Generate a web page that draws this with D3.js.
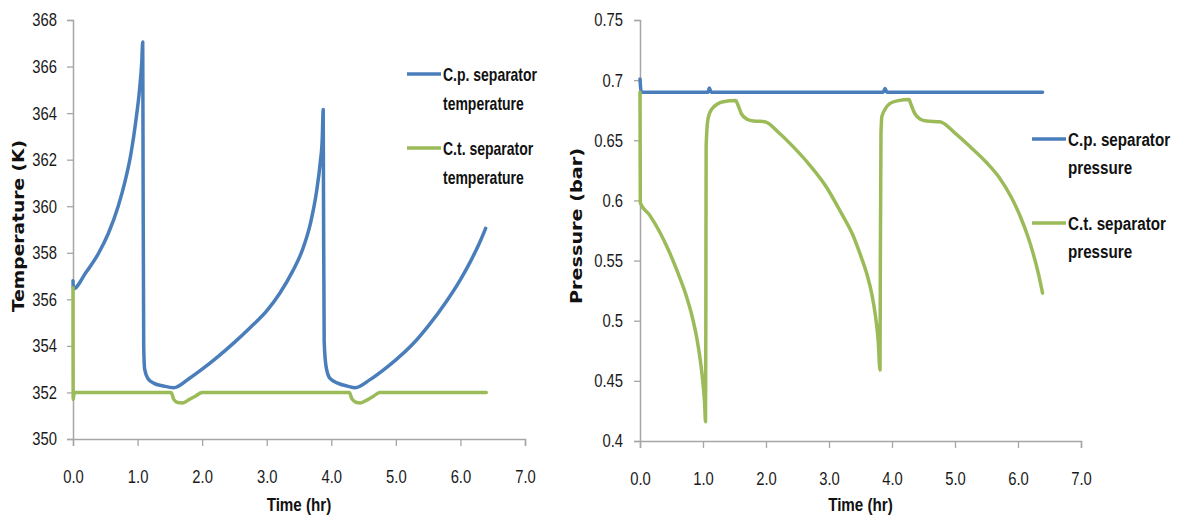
<!DOCTYPE html>
<html>
<head>
<meta charset="utf-8">
<script src="https://cdn.jsdelivr.net/npm/d3@7/dist/d3.min.js"></script>
<style>
  html, body { margin: 0; padding: 0; background: #fff; }
  svg { display: block; }
  .tick text { font-family: 'Liberation Sans', Arial, sans-serif; fill: #1a1a1a; }
  .legend text { font-family: 'Liberation Sans', Arial, sans-serif; font-weight: bold; fill: #111; }
  .xtitle { font-family: 'Liberation Sans', Arial, sans-serif; font-weight: bold; fill: #111; }
  .ytitle { font-family: 'DejaVu Sans', Verdana, sans-serif; font-weight: bold; fill: #111; }
</style>
</head>
<body>
<svg id="chart" width="1181" height="515"></svg>
<script>
// Time axis ticks (hr), shared by both panels
const timeTicks = [0, 1, 2, 3, 4, 5, 6, 7];
const tempTicks = [350, 352, 354, 356, 358, 360, 362, 364, 366, 368];
const pressTicks = [0.4, 0.45, 0.5, 0.55, 0.6, 0.65, 0.7, 0.75];

// [time (hr), temperature (K)]
const cpTemperature = [
  [0, 356.8], [0.005, 356.45], [0.2, 357.15], [0.4, 358.0], [0.55, 358.85],
  [0.7, 360.0], [0.8, 361.0], [0.9, 362.3], [0.97, 363.6], [1.03, 365.0],
  [1.065, 366.2], [1.08, 367.05],
  [1.085, 362.0], [1.095, 354.0], [1.11, 353.0], [1.16, 352.6], [1.25, 352.4],
  [1.4, 352.28], [1.56, 352.2], [1.8, 352.6], [2.0, 353.0], [2.25, 353.55],
  [2.5, 354.15], [2.75, 354.8], [3.0, 355.5], [3.2, 356.25], [3.4, 357.2],
  [3.55, 358.1], [3.68, 359.3], [3.77, 360.6], [3.83, 361.9], [3.86, 362.9],
  [3.875, 364.15],
  [3.88, 360.0], [3.89, 354.2], [3.92, 353.1], [3.98, 352.6], [4.1, 352.4],
  [4.25, 352.27], [4.37, 352.2], [4.6, 352.55], [4.8, 352.95], [5.0, 353.4],
  [5.27, 354.1], [5.5, 354.85], [5.78, 355.9], [6.0, 356.85], [6.15, 357.6],
  [6.3, 358.45], [6.39, 359.05]
];
const ctTemperature = [
  [0, 356.5], [0.003, 351.7], [0.02, 352.0], [1.52, 352.0], [1.56, 351.7],
  [1.62, 351.57], [1.7, 351.55], [1.8, 351.7], [1.9, 351.85], [2.0, 352.0],
  [4.28, 352.0], [4.32, 351.72], [4.38, 351.58], [4.45, 351.55], [4.55, 351.67],
  [4.65, 351.83], [4.75, 352.0], [6.4, 352.0]
];

// [time (hr), pressure (bar)]
const cpPressure = [
  [0, 0.701], [0.02, 0.69], [1.08, 0.69], [1.1, 0.6935], [1.13, 0.69],
  [3.86, 0.69], [3.89, 0.693], [3.92, 0.69], [6.39, 0.69]
];
const ctPressure = [
  [0, 0.69], [0.005, 0.598], [0.15, 0.588], [0.3, 0.575], [0.45, 0.559],
  [0.6, 0.54], [0.72, 0.523], [0.82, 0.505], [0.9, 0.486], [0.96, 0.466],
  [1.0, 0.448], [1.025, 0.432], [1.04, 0.416],
  [1.045, 0.5], [1.05, 0.645], [1.08, 0.668], [1.14, 0.676],
  [1.32, 0.682], [1.52, 0.683], [1.55, 0.68], [1.61, 0.672], [1.7, 0.6675],
  [1.8, 0.666], [1.98, 0.6655], [2.2, 0.6565], [2.43, 0.6447], [2.7, 0.629],
  [2.96, 0.611], [3.2, 0.589], [3.38, 0.571], [3.5, 0.5545], [3.6, 0.539],
  [3.68, 0.522], [3.74, 0.503], [3.78, 0.484], [3.81, 0.459],
  [3.815, 0.55], [3.825, 0.655], [3.84, 0.67], [3.97, 0.6807], [4.1, 0.683],
  [4.27, 0.684], [4.3, 0.68], [4.36, 0.6724], [4.45, 0.6675], [4.55, 0.666],
  [4.76, 0.6654], [5.0, 0.656], [5.24, 0.6447], [5.5, 0.6315], [5.71, 0.6185],
  [5.9, 0.602], [6.03, 0.5875], [6.15, 0.571], [6.24, 0.556], [6.32, 0.54],
  [6.39, 0.523]
];

const BLUE = '#4a7ebb';
const GREEN = '#9bbb59';
const AXIS = '#a6a6a6';
const NARROW = 0.8;

const svg = d3.select('#chart');

function panel(cfg) {
  const x = d3.scaleLinear().domain([0, 7]).range([cfg.x0, cfg.x1]);
  const y = d3.scaleLinear().domain(cfg.yDomain).range([cfg.yBottom, cfg.yTop]);
  const g = svg.append('g');

  const xAxis = g.append('g')
    .attr('transform', `translate(0,${cfg.yBottom})`)
    .call(d3.axisBottom(x).tickValues(timeTicks).tickFormat(d3.format('.1f')).tickSize(7).tickPadding(24));
  const yAxis = g.append('g')
    .attr('transform', `translate(${cfg.x0},0)`)
    .call(d3.axisLeft(y).tickValues(cfg.yTicks).tickFormat(cfg.yFormat).tickSize(6).tickPadding(cfg.yPad));
  [xAxis, yAxis].forEach(a => {
    a.select('.domain').attr('stroke', AXIS).attr('stroke-width', 1.5);
    a.selectAll('.tick line').attr('stroke', AXIS).attr('stroke-width', 1.3);
    a.selectAll('.tick text').attr('font-size', cfg.tickSize).classed('cond', true);
  });

  const line = d3.line().x(d => x(d[0])).y(d => y(d[1])).curve(d3.curveMonotoneX);
  cfg.series.forEach(s => {
    g.append('path').datum(s.data)
      .attr('d', line)
      .attr('fill', 'none')
      .attr('stroke', s.color)
      .attr('stroke-width', 3.5)
      .attr('stroke-linejoin', 'round')
      .attr('stroke-linecap', 'round');
  });

  // axis titles
  g.append('text').attr('class', 'xtitle cond')
    .attr('x', (cfg.x0 + x(7)) / 2).attr('y', 511)
    .attr('text-anchor', 'middle').attr('font-size', 19).text('Time (hr)');
  g.append('text').attr('class', 'ytitle')
    .attr('transform', `translate(${cfg.yTitleX},${cfg.yTitleY}) rotate(-90)`)
    .attr('text-anchor', 'middle').attr('font-size', 16)
    .attr('textLength', cfg.yTitleLen).attr('lengthAdjust', 'spacingAndGlyphs')
    .text(cfg.yTitle);

  // legend
  const lg = g.append('g').attr('class', 'legend');
  cfg.series.forEach(s => {
    lg.append('line')
      .attr('x1', cfg.legX).attr('x2', cfg.legX + 34)
      .attr('y1', s.legY).attr('y2', s.legY)
      .attr('stroke', s.color).attr('stroke-width', 3.5);
    s.label.forEach((t, i) => {
      lg.append('text').attr('class', 'cond')
        .attr('x', cfg.legX + 36).attr('y', s.legY + 7 + i * cfg.legLine)
        .attr('font-size', cfg.legSize).text(t);
    });
  });
}

panel({
  x0: 73, x1: 525, yBottom: 439, yTop: 20,
  yDomain: [350, 368], yTicks: tempTicks, yFormat: d3.format('d'), yPad: 10,
  tickSize: 18.5,
  yTitle: 'Temperature (K)', yTitleX: 24, yTitleY: 226, yTitleLen: 172,
  legX: 407, legLine: 29, legSize: 17.5,
  series: [
    { data: cpTemperature, color: BLUE, legY: 74, label: ['C.p. separator', 'temperature'] },
    { data: ctTemperature, color: GREEN, legY: 148, label: ['C.t. separator', 'temperature'] }
  ]
});

panel({
  x0: 640, x1: 1081, yBottom: 441, yTop: 20,
  yDomain: [0.4, 0.75], yTicks: pressTicks, yFormat: d => String(+d.toFixed(2)), yPad: 11,
  tickSize: 18.5,
  yTitle: 'Pressure (bar)', yTitleX: 582, yTitleY: 226, yTitleLen: 156,
  legX: 1032, legLine: 28, legSize: 19,
  series: [
    { data: cpPressure, color: BLUE, legY: 139, label: ['C.p. separator', 'pressure'] },
    { data: ctPressure, color: GREEN, legY: 223, label: ['C.t. separator', 'pressure'] }
  ]
});

// narrow the sans-serif labels horizontally about their own anchor point
svg.selectAll('text.cond').each(function () {
  const ax = +(this.getAttribute('x') || 0);
  d3.select(this).attr('transform', `translate(${ax},0) scale(${NARROW},1) translate(${-ax},0)`);
});
</script>
</body>
</html>
